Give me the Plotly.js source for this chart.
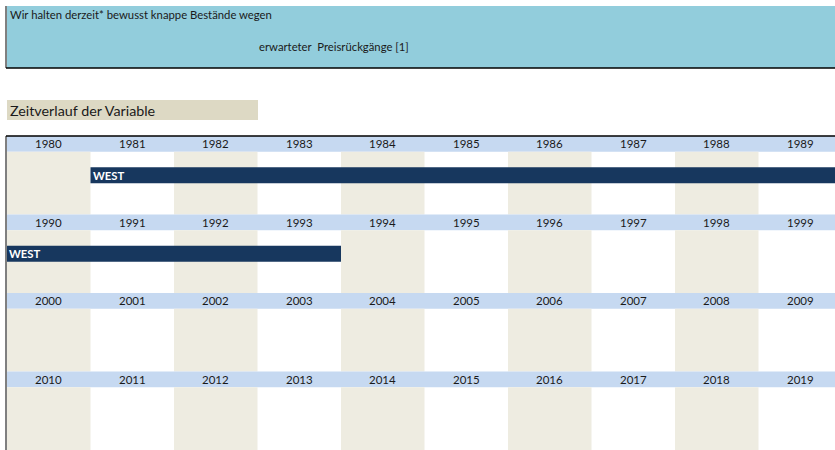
<!DOCTYPE html>
<html><head><meta charset="utf-8">
<script src="https://cdn.plot.ly/plotly-3.0.1.min.js"></script>
<style>html,body{margin:0;padding:0;background:#fff}#chart{width:835px;height:450px}</style>
</head><body><div id="chart"></div>
<script>
// ---- data ----
const headerLine1 = "Wir halten derzeit* bewusst knappe Bestände wegen";
const headerLine2 = "erwarteter  Preisrückgänge [1]";
const sectionTitle = "Zeitverlauf der Variable";
const years = [1980,1981,1982,1983,1984,1985,1986,1987,1988,1989,
               1990,1991,1992,1993,1994,1995,1996,1997,1998,1999,
               2000,2001,2002,2003,2004,2005,2006,2007,2008,2009,
               2010,2011,2012,2013,2014,2015,2016,2017,2018,2019];
const seriesNames = ["WEST"];
const seriesStart = [1981];
const seriesEnd   = [1993];

// ---- layout helpers ----
const W = 835, H = 450, T = 136, L = 7;
const perRow = 10;
const firstYear = years[0];
const colW = 83.5;
const xMax = (W - L) / colW;
const px = p => (p - L) / (W - L);
const py = p => (H - p) / (H - T);
const HDR = 0.2;

const shapes = [], annotations = [];
const nRows = Math.ceil(years.length / perRow);
const font = "Lato, 'Open Sans', sans-serif";

// top header box
shapes.push({type:'rect', xref:'paper', yref:'paper', x0:px(7), x1:1, y0:py(68), y1:py(6), fillcolor:'#92CDDC', line:{width:0}, layer:'below'});
shapes.push({type:'line', xref:'paper', yref:'paper', x0:px(6), x1:px(6), y0:py(68), y1:py(6), line:{color:'#000', width:1}});
shapes.push({type:'line', xref:'paper', yref:'paper', x0:px(6), x1:1, y0:py(68), y1:py(68), line:{color:'#000', width:1.5}});
annotations.push({xref:'paper', yref:'paper', x:px(8), y:py(15), xanchor:'left', yanchor:'middle', showarrow:false, text:headerLine1, font:{family:font, size:11.3, color:'#1a1a1a'}});
annotations.push({xref:'paper', yref:'paper', x:px(257), y:py(46), xanchor:'left', yanchor:'middle', showarrow:false, text:headerLine2, font:{family:font, size:11.3, color:'#1a1a1a'}});
// section title
shapes.push({type:'rect', xref:'paper', yref:'paper', x0:px(7), x1:px(258), y0:py(120), y1:py(100), fillcolor:'#DDD9C4', line:{width:0}, layer:'below'});
annotations.push({xref:'paper', yref:'paper', x:px(8), y:py(110), xanchor:'left', yanchor:'middle', showarrow:false, text:sectionTitle, font:{family:font, size:14.3, color:'#1a1a1a'}});

// grid rows
for (let r = 0; r < nRows; r++) {
  shapes.push({type:'rect', xref:'x', yref:'y', x0:0, x1:perRow, y0:r, y1:r+HDR, fillcolor:'#C6D9F1', line:{width:0}, layer:'below'});
  for (let c = 0; c < perRow; c++) {
    const i = r*perRow + c;
    if (c % 2 === 0) shapes.push({type:'rect', xref:'x', yref:'y', x0:c, x1:c+1, y0:r+HDR, y1:r+1, fillcolor:'#EEECE1', line:{width:0}, layer:'below'});
    annotations.push({xref:'x', yref:'y', x:c+0.5, y:r+HDR/2, xanchor:'center', yanchor:'middle', showarrow:false, text:String(years[i]), font:{family:font, size:11.5, color:'#1a1a1a'}});
  }
}
shapes.push({type:'line', xref:'paper', yref:'paper', x0:px(6), x1:1, y0:1, y1:1, line:{color:'#000', width:1.5}});
shapes.push({type:'line', xref:'paper', yref:'paper', x0:px(6), x1:px(6), y0:0, y1:1, line:{color:'#000', width:1}});

// series segments split across rows
const segY = [], segBase = [], segLen = [];
seriesNames.forEach((name, k) => {
  let s = seriesStart[k] - firstYear, e = seriesEnd[k] - firstYear + 1;
  while (s < e) {
    const r = Math.floor(s / perRow);
    const rowEnd = Math.min(e, (r+1)*perRow);
    segY.push(r + 0.5); segBase.push(s - r*perRow); segLen.push(rowEnd - s);
    annotations.push({xref:'x', yref:'y', x:s - r*perRow, y:r+0.5, xanchor:'left', yanchor:'middle', xshift:0, showarrow:false, text:'<b>'+name+'</b>', font:{family:font, size:11.3, color:'#fff'}});
    s = rowEnd;
  }
});

const trace = {type:'bar', orientation:'h', y:segY, base:segBase, x:segLen, width:0.204, marker:{color:'#17375E', line:{width:0}}, hoverinfo:'skip'};

Plotly.newPlot('chart', [trace], {
  width:W, height:H, margin:{l:L, r:0, t:T, b:0},
  paper_bgcolor:'#fff', plot_bgcolor:'rgba(0,0,0,0)', showlegend:false,
  xaxis:{range:[0, xMax], visible:false, fixedrange:true},
  yaxis:{range:[nRows, 0], visible:false, fixedrange:true},
  shapes, annotations
}, {displayModeBar:false, staticPlot:true});
</script></body></html>
